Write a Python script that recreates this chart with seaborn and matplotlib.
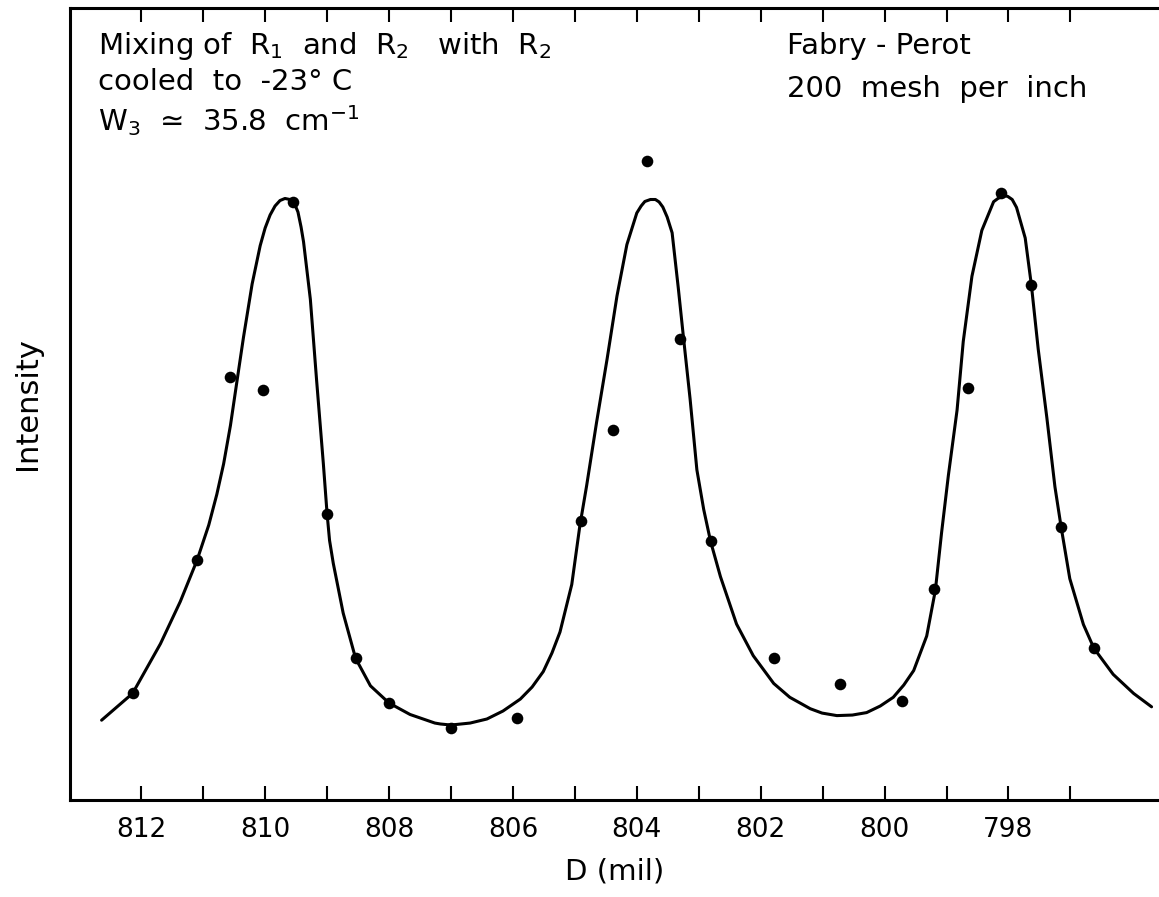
import matplotlib
matplotlib.use("Agg")
import matplotlib.pyplot as plt
import pandas as pd
import seaborn as sns

# measured points, D in mil, intensity in arbitrary units (0 = bottom of frame)
point_d = [812.13, 811.10, 810.57, 810.04, 809.55, 809.00, 808.54, 808.00,
           807.00, 805.94, 804.90, 804.39, 803.84, 803.31, 802.81, 801.79,
           800.72, 799.72, 799.21, 798.66, 798.12, 797.63, 797.15, 796.62]
point_int = [13.46, 30.27, 53.42, 51.77, 75.45, 36.16, 17.90, 12.25,
             9.14, 10.34, 35.19, 46.67, 80.71, 58.24, 32.69, 17.97,
             14.66, 12.49, 26.64, 52.06, 76.65, 65.01, 34.47, 19.15]

# fitted curve
curve_d = [812.64, 812.14, 811.69, 811.37, 811.10, 810.91, 810.78, 810.67,
           810.56, 810.46, 810.35, 810.21, 810.08, 810.00, 809.92, 809.84,
           809.76, 809.68, 809.60, 809.53, 809.47, 809.42, 809.38, 809.27,
           809.17, 809.06, 809.00, 808.96, 808.90, 808.74, 808.54, 808.30,
           808.00, 807.66, 807.26, 807.17, 807.00, 806.69, 806.42, 806.16,
           805.88, 805.69, 805.51, 805.37, 805.24, 805.05, 804.92, 804.81,
           804.65, 804.48, 804.32, 804.16, 804.00, 803.93, 803.87, 803.78,
           803.70, 803.64, 803.58, 803.51, 803.43, 803.33, 803.25, 803.14,
           803.03, 802.92, 802.81, 802.65, 802.39, 802.12, 801.79, 801.53,
           801.36, 801.20, 801.01, 800.77, 800.52, 800.29, 800.07, 799.86,
           799.69, 799.53, 799.32, 799.18, 799.08, 798.97, 798.83, 798.73,
           798.59, 798.43, 798.24, 798.17, 798.10, 798.05, 798.01, 797.94,
           797.87, 797.73, 797.63, 797.52, 797.38, 797.25, 797.15, 797.01,
           796.79, 796.62, 796.31, 795.98, 795.69]
curve_int = [10.08, 13.46, 19.73, 25.05, 30.26, 34.72, 38.59, 42.45,
             47.29, 52.60, 58.40, 65.15, 69.99, 72.22, 73.86, 75.00,
             75.69, 75.95, 75.82, 75.38, 74.24, 72.35, 70.48, 63.22,
             53.08, 42.45, 36.16, 32.78, 29.89, 23.60, 17.90, 14.42,
             12.25, 10.80, 9.72, 9.60, 9.47, 9.72, 10.23, 11.24,
             12.75, 14.27, 16.22, 18.56, 21.21, 27.21, 34.60, 39.68,
             47.66, 55.66, 63.64, 70.13, 74.12, 75.00, 75.57, 75.82,
             75.82, 75.51, 74.87, 73.61, 71.62, 64.63, 58.65, 50.66,
             41.68, 36.69, 32.69, 28.21, 22.22, 18.22, 14.72, 12.97,
             12.23, 11.53, 10.98, 10.66, 10.73, 11.04, 11.87, 12.97,
             14.52, 16.35, 20.71, 26.50, 33.75, 41.00, 49.22, 57.90,
             66.12, 71.92, 75.54, 75.95, 76.20, 76.28, 76.20, 75.82,
             74.82, 70.96, 65.01, 56.94, 48.24, 39.55, 34.47, 27.95,
             22.16, 19.15, 15.87, 13.46, 11.77]

major_ticks = [812, 810, 808, 806, 804, 802, 800, 798]
minor_ticks = [811, 809, 807, 805, 803, 801, 799, 797]

points = pd.DataFrame({"d": point_d, "intensity": point_int})
curve = pd.DataFrame({"d": curve_d, "intensity": curve_int})

sns.set_style("ticks")
plt.rcParams["font.family"] = ["DejaVu Sans"]
plt.rcParams["mathtext.fontset"] = "dejavusans"
plt.rcParams["text.color"] = "black"
plt.rcParams["axes.labelcolor"] = "black"

fig = plt.figure(figsize=(11.59, 8.97), dpi=100)
ax = fig.add_axes([0.0604, 0.1081, 0.9396, 0.8830])

sns.lineplot(data=curve, x="d", y="intensity", sort=False, color="black",
             linewidth=2.2, ax=ax)
sns.scatterplot(data=points, x="d", y="intensity", color="black", s=70,
                edgecolor="black", linewidth=0, ax=ax, zorder=3)

ax.set_xlim(813.15, 795.57)
ax.set_ylim(0, 100)

ax.set_xticks(major_ticks)
ax.set_xticks(minor_ticks, minor=True)
ax.set_xticklabels([str(t) for t in major_ticks])
ax.set_yticks([])
ax.tick_params(axis="x", which="both", direction="in", length=10, width=1.5,
               top=True, labelsize=19, pad=12, colors="black")

for side in ["left", "bottom", "top"]:
    ax.spines[side].set_linewidth(2.2)
    ax.spines[side].set_color("black")
ax.spines["right"].set_visible(False)

ax.set_xlabel("D (mil)", fontsize=21, labelpad=11)
ax.set_ylabel("Intensity", fontsize=22, labelpad=20)

txt = dict(transform=ax.transAxes, fontsize=21, ha="left", va="center")
ax.text(0.026, 0.952, r"Mixing of  R$_1$  and  R$_2$   with  R$_2$", **txt)
ax.text(0.026, 0.907, "cooled  to  -23° C", **txt)
ax.text(0.026, 0.858, r"W$_3$  ≃  35.8  cm$^{-1}$", **txt)
ax.text(0.658, 0.952, "Fabry - Perot", **txt)
ax.text(0.658, 0.898, "200  mesh  per  inch", **txt)

fig.savefig("out.png", dpi=100, facecolor="white")
